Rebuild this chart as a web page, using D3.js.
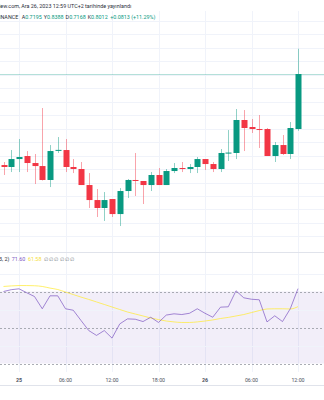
<!DOCTYPE html>
<html><head><meta charset="utf-8">
<script src="https://cdn.jsdelivr.net/npm/d3@7"></script>
<style>body{margin:0;background:#fff;}svg{display:block;font-family:Roboto,"Noto Sans",sans-serif;}</style>
</head><body><svg id="c" width="324" height="400"></svg>
<script>
const times = ["2023-12-24T22","2023-12-24T23",
"2023-12-25T00","2023-12-25T01","2023-12-25T02","2023-12-25T03","2023-12-25T04","2023-12-25T05",
"2023-12-25T06","2023-12-25T07","2023-12-25T08","2023-12-25T09","2023-12-25T10","2023-12-25T11",
"2023-12-25T12","2023-12-25T13","2023-12-25T14","2023-12-25T15","2023-12-25T16","2023-12-25T17",
"2023-12-25T18","2023-12-25T19","2023-12-25T20","2023-12-25T21","2023-12-25T22","2023-12-25T23",
"2023-12-26T00","2023-12-26T01","2023-12-26T02","2023-12-26T03","2023-12-26T04","2023-12-26T05",
"2023-12-26T06","2023-12-26T07","2023-12-26T08","2023-12-26T09","2023-12-26T10","2023-12-26T11",
"2023-12-26T12"];
const open  = [0.6660,0.6631,0.6749,0.6794,0.6690,0.6645,0.6438,0.6875,0.6883,0.6631,0.6601,0.6363,0.6140,0.6022,0.6155,0.5932,0.6274,0.6438,0.6423,0.6363,0.6512,0.6363,0.6571,0.6616,0.6601,0.6631,0.6749,0.6675,0.6601,0.6839,0.6839,0.7329,0.7225,0.7195,0.7195,0.6794,0.6957,0.6824,0.7195];
const high  = [0.6705,0.6883,0.7047,0.6868,0.6824,0.7507,0.6957,0.7076,0.7047,0.6749,0.6705,0.6541,0.6304,0.6259,0.6155,0.6318,0.6452,0.6839,0.6423,0.6556,0.6616,0.6601,0.6690,0.6705,0.6675,0.6779,0.6749,0.6705,0.6898,0.7180,0.7492,0.7477,0.7344,0.7403,0.7210,0.7002,0.7106,0.7299,0.8388];
const low   = [0.6512,0.6556,0.6556,0.6556,0.6378,0.6430,0.6333,0.6839,0.6556,0.6541,0.6363,0.6022,0.5888,0.5829,0.5888,0.5754,0.6170,0.6200,0.6081,0.6274,0.6363,0.6363,0.6541,0.6556,0.6541,0.6541,0.6586,0.6556,0.6556,0.6720,0.6749,0.6868,0.7136,0.6913,0.6794,0.6705,0.6809,0.6749,0.7168];
const close = [0.6631,0.6749,0.6779,0.6690,0.6645,0.6438,0.6868,0.6885,0.6631,0.6601,0.6363,0.6140,0.6022,0.6140,0.5932,0.6274,0.6438,0.6423,0.6363,0.6512,0.6363,0.6571,0.6616,0.6601,0.6631,0.6749,0.6675,0.6601,0.6839,0.6845,0.7329,0.7210,0.7195,0.7185,0.6794,0.6957,0.6824,0.7210,0.8012];
const rsi = [70,71,71.5,69.3,67.2,60.4,67.6,67.6,60.4,59.6,53.9,48.3,45.6,48.3,44.1,52,54.8,54.6,53.3,55.7,52.8,56.9,57.6,57.2,57.9,60.4,57.9,55.7,61.3,61.5,70.4,66.5,65.7,65.4,53.1,56.5,53.3,60.4,71.6];
const rsiMa = [72.8,73.1,73.3,73.3,73.2,72.8,71.9,71.1,69.7,68.3,66.9,65.6,64.2,62.8,61.4,60,58.6,57.5,56.4,55.3,54.4,53.6,53.1,52.8,52.8,53.1,53.6,54.2,55,55.6,56.4,57.2,58.3,59.4,60.3,60.4,60.4,60.3,61.58];
const tickTimes = ["2023-12-25T00","2023-12-25T06","2023-12-25T12","2023-12-25T18","2023-12-26T00","2023-12-26T06","2023-12-26T12"];
const tickLabels = ["25","06:00","12:00","18:00","26","06:00","12:00"];
const priceGrid = [0.56,0.58,0.60,0.62,0.64,0.66,0.68,0.70,0.72,0.74,0.76,0.78,0.80,0.82,0.84,0.86,0.88];
const rsiGrid = [40,60,80];
const rsiBands = [30,50,70];
const headerLine1 = "iew.com, Ara 26, 2023 12:59 UTC+2 tarihinde yayınlandı";
const ohlcLabels = ["A","Y","D","K"];
const ohlcValues = ["0.7195","0.8388","0.7168","0.8012"];
const changeText = "+0.0813 (+11.29%)";
const rsiTitle = "3, 2)";
const rsiValues = ["71.60","61.58"];

const parse = d3.timeParse("%Y-%m-%dT%H");
const data = times.map((t,i)=>({t:parse(t),o:open[i],h:high[i],l:low[i],c:close[i],r:rsi[i],m:rsiMa[i]}));

const UP="#089981", DN="#F23645";
const svg = d3.select("#c");
svg.append("rect").attr("width",324).attr("height",400).attr("fill","#fff");

const x = d3.scaleTime().domain([parse("2023-12-25T00"),parse("2023-12-26T12")]).range([19,298]);
const y = d3.scaleLinear().domain([0.56,0.84]).range([236.4,47.9]);
const yr = d3.scaleLinear().domain([30,70]).range([363.5,291.5]);

const mainTop=11, mainBot=252, rsiTop=252, rsiBot=372;

// vertical grid
const g = svg.append("g");
tickTimes.forEach(tt=>{
  const xx=Math.round(x(parse(tt)))+0.5;
  g.append("line").attr("x1",xx).attr("x2",xx).attr("y1",mainTop).attr("y2",rsiBot).attr("stroke","#f0f3fa").attr("stroke-width",1);
});
// horizontal price grid
priceGrid.forEach(p=>{
  const yy=Math.round(y(p))+0.5;
  if(yy>mainTop && yy<mainBot) g.append("line").attr("x1",0).attr("x2",324).attr("y1",yy).attr("y2",yy).attr("stroke","#f0f3fa");
});
// pane separator
svg.append("line").attr("x1",0).attr("x2",324).attr("y1",rsiTop+0.5).attr("y2",rsiTop+0.5).attr("stroke","#e0e3eb");

// rsi background band
svg.append("rect").attr("x",0).attr("width",324).attr("y",yr(70)).attr("height",yr(30)-yr(70)).attr("fill","#7E57C2").attr("fill-opacity",0.1);
rsiGrid.forEach(v=>{
  const yy=Math.round(yr(v))+0.5;
  svg.append("line").attr("x1",0).attr("x2",324).attr("y1",yy).attr("y2",yy).attr("stroke","#f0f3fa");
});
rsiBands.forEach(v=>{
  const yy=Math.round(yr(v))+0.5;
  svg.append("line").attr("x1",0).attr("x2",324).attr("y1",yy).attr("y2",yy).attr("stroke","#9598a1").attr("stroke-opacity",0.8).attr("stroke-dasharray","2,2");
});

// last price line
const lastY = Math.round(y(close[close.length-1]))+0.5;
svg.append("line").attr("x1",0).attr("x2",324).attr("y1",lastY).attr("y2",lastY).attr("stroke",UP).attr("stroke-opacity",0.3);

// candles
const bw=6;
const cg = svg.append("g");
data.forEach(d=>{
  const cx=Math.round(x(d.t));
  const col = d.c>=d.o?UP:DN;
  cg.append("line").attr("x1",cx+0.5).attr("x2",cx+0.5).attr("y1",y(d.h)).attr("y2",y(d.l)).attr("stroke",col).attr("stroke-opacity",0.45);
  const top=Math.min(y(d.o),y(d.c)), hh=Math.max(1,Math.abs(y(d.o)-y(d.c)));
  cg.append("rect").attr("x",cx-bw/2+0.5).attr("width",bw).attr("y",top).attr("height",hh).attr("fill",col);
});

// rsi lines
svg.append("path").datum(data).attr("fill","none").attr("stroke","#FFEB3B").attr("stroke-opacity",0.75).attr("stroke-width",1)
  .attr("d",d3.line().x(d=>x(d.t)).y(d=>yr(d.m)).curve(d3.curveMonotoneX));
svg.append("path").datum(data).attr("fill","none").attr("stroke","#7E57C2").attr("stroke-opacity",0.7).attr("stroke-width",1)
  .attr("d",d3.line().x(d=>x(d.t)).y(d=>yr(d.r)));

// time axis
svg.append("line").attr("x1",0).attr("x2",324).attr("y1",385.5).attr("y2",385.5).attr("stroke","#e0e3eb");
tickTimes.forEach((tt,i)=>{
  const day = tickLabels[i].length<=2;
  svg.append("text").attr("x",x(parse(tt))).attr("y",382).attr("text-anchor","middle")
    .attr("font-size",5.3).attr("fill","#4c525e").attr("font-weight",day?700:400).text(tickLabels[i]);
});

// header
svg.append("text").attr("x",-1).attr("y",8).attr("font-size",5.4).attr("fill","#2a2e39").text(headerLine1);
const h2 = svg.append("text").attr("x",-1).attr("y",19).attr("font-size",5.4).attr("fill","#2a2e39");
h2.append("tspan").text("INANCE ");
ohlcLabels.forEach((l,i)=>{
  h2.append("tspan").attr("dx",i===0?2:2).text(l);
  h2.append("tspan").attr("fill",UP).text(ohlcValues[i]);
});
h2.append("tspan").attr("dx",2.5).attr("fill",UP).text(changeText);

// rsi legend
const h3 = svg.append("text").attr("x",-1).attr("y",261).attr("font-size",5.4).attr("fill","#2a2e39");
h3.append("tspan").text(rsiTitle);
h3.append("tspan").attr("dx",2.5).attr("fill","#7E57C2").text(rsiValues[0]);
h3.append("tspan").attr("dx",2.5).attr("fill","#F5DE3A").text(rsiValues[1]);
for(let i=0;i<6;i++) h3.append("tspan").attr("dx",i===0?2.5:1.2).attr("fill","#787b86").text("∅");
</script></body></html>
